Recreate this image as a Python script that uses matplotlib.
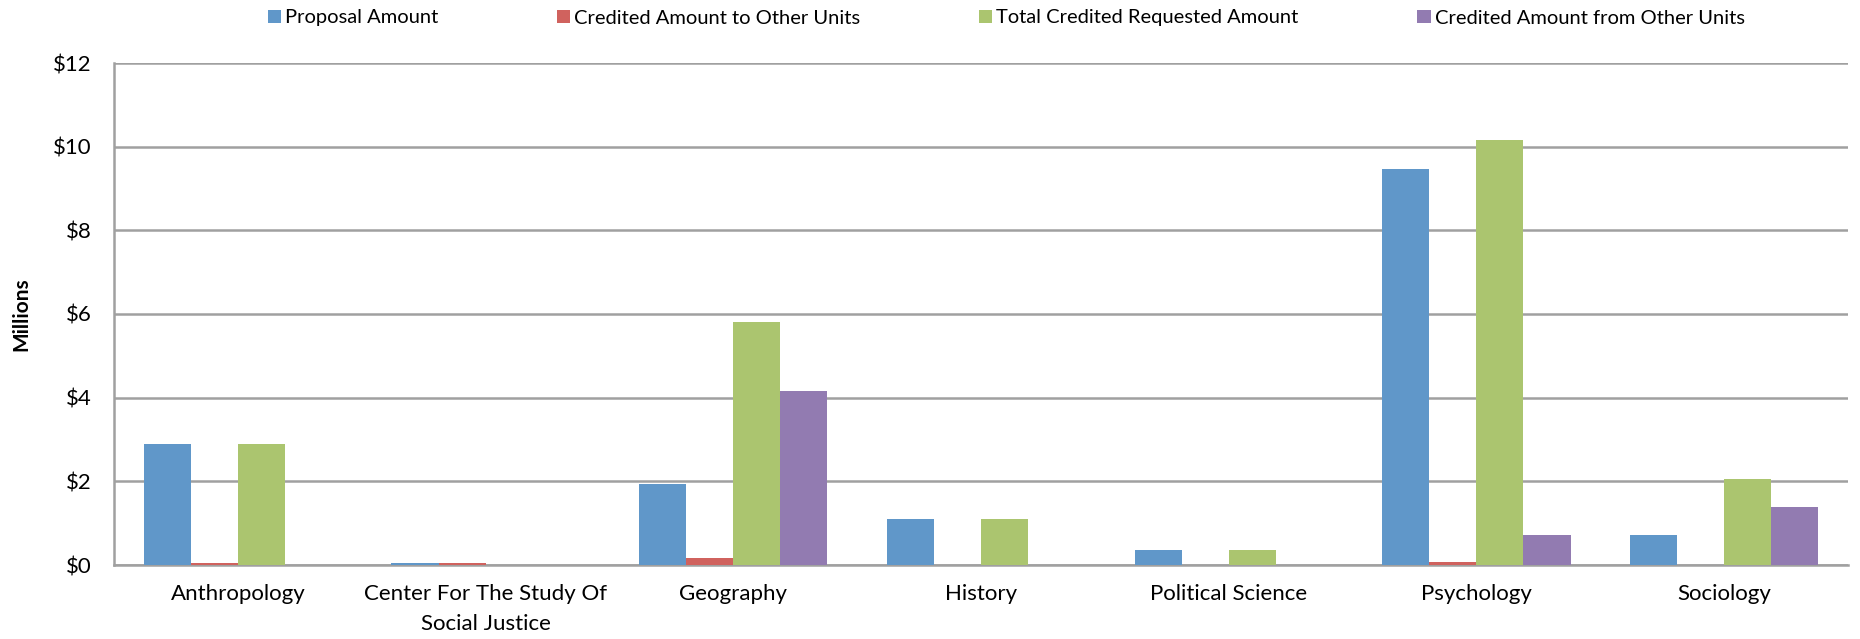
import numpy as np
import matplotlib
matplotlib.use("Agg")
import matplotlib.pyplot as plt

plt.rcParams['font.family'] = ['Lato', 'DejaVu Sans']

# data (millions of dollars)
categories = ['Anthropology', 'Center For The Study Of\nSocial Justice', 'Geography',
              'History', 'Political Science', 'Psychology', 'Sociology']
series_names = ['Proposal Amount', 'Credited Amount to Other Units',
                'Total Credited Requested Amount', 'Credited Amount from Other Units']
proposal = [2.90, 0.04, 1.93, 1.10, 0.37, 9.46, 0.72]
credited_to = [0.05, 0.05, 0.17, 0.0, 0.0, 0.06, 0.0]
total_requested = [2.90, 0.0, 5.82, 1.10, 0.37, 10.17, 2.05]
credited_from = [0.0, 0.0, 4.16, 0.0, 0.0, 0.72, 1.39]
yticks = [0, 2, 4, 6, 8, 10, 12]

colors = ['#6097C9', '#D0625E', '#ABC56F', '#927BB1']

fig = plt.figure(figsize=(18.6, 6.39), dpi=100)
ax = fig.add_axes([114 / 1860, 1 - 565 / 639, (1848 - 114) / 1860, (565 - 63) / 639])

x = np.arange(len(categories))
w = 0.19
all_series = [proposal, credited_to, total_requested, credited_from]
for i, (vals, name, c) in enumerate(zip(all_series, series_names, colors)):
    ax.bar(x + (i - 1.5) * w, vals, width=w, color=c, label=name, zorder=3)

ax.set_xlim(-0.5, len(categories) - 0.5)
ax.set_ylim(0, 12)
ax.set_yticks(yticks)
ax.set_yticklabels(['$%d' % v for v in yticks], fontsize=16)
ax.set_xticks(x)
ax.set_xticklabels(categories, fontsize=16, linespacing=1.6)
ax.tick_params(axis='x', length=0, pad=14)
ax.tick_params(axis='y', length=0, pad=16)
ax.yaxis.grid(True, color='#A0A0A0', linewidth=1.8, zorder=0)
for s in ['top', 'right']:
    ax.spines[s].set_visible(False)
for s in ['left', 'bottom']:
    ax.spines[s].set_color('#A0A0A0')
    ax.spines[s].set_linewidth(1.8)
ax.set_ylabel('Millions', fontsize=15, fontweight='bold', labelpad=16)

fig.legend(loc='center left', bbox_to_anchor=(268 / 1860, 1 - 18 / 639), ncol=4, frameon=False,
           fontsize=14.5, handlelength=0.65, handleheight=0.65, handletextpad=0.2,
           columnspacing=5.9, borderpad=0, borderaxespad=0)

fig.savefig('out.png', dpi=100)
